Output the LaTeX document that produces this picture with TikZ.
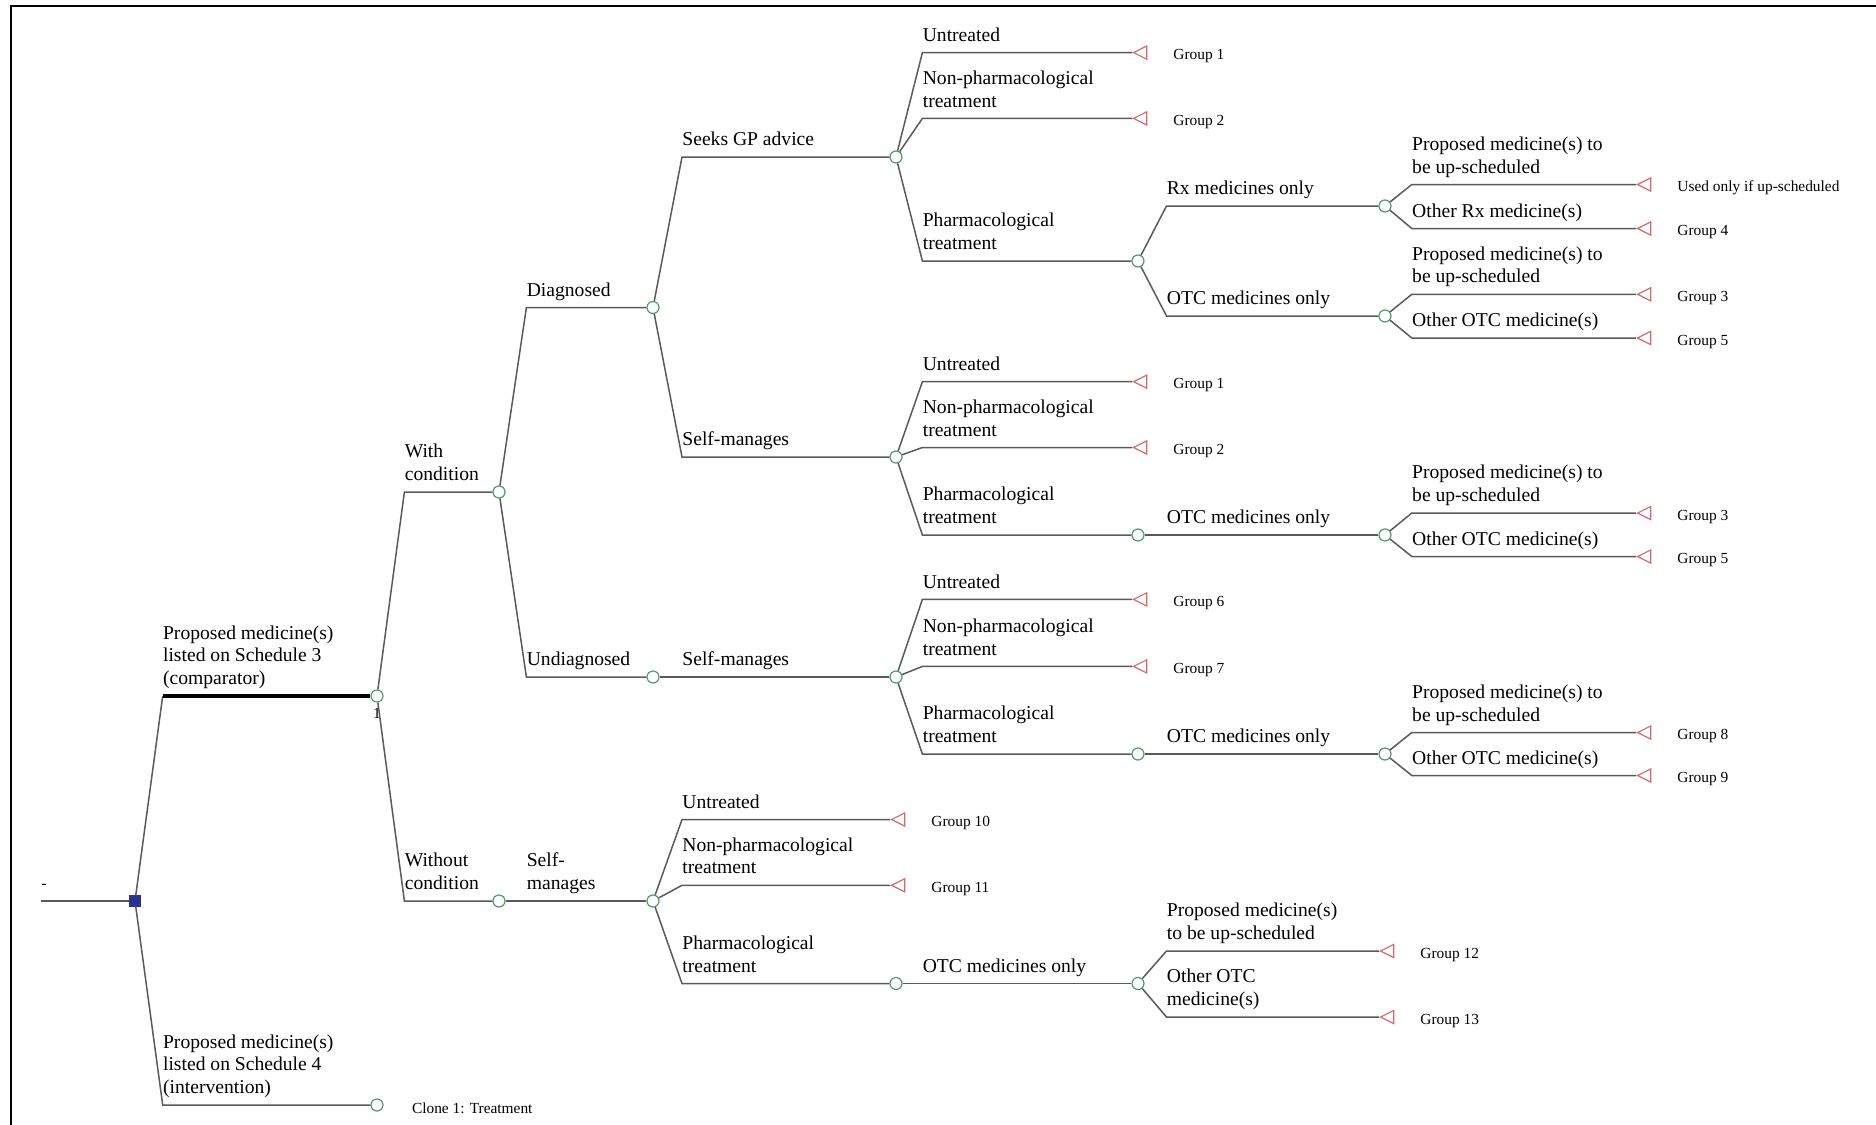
\documentclass[tikz,border=0pt]{standalone}
\usepackage{fontspec}
\setmainfont{Liberation Serif}
\usetikzlibrary{shapes.geometric}
\definecolor{brc}{HTML}{5A5A5A}
\definecolor{chc}{HTML}{4F9D69}
\definecolor{tmc}{HTML}{D46A6A}
\definecolor{dcc}{HTML}{2E3192}

\begin{document}
\begin{tikzpicture}[x=0.5pt, y=-0.5pt,
  br/.style={draw=brc, line width=0.75pt},
  thk/.style={draw=black, line width=1.7pt},
  dec/.style={rectangle, fill=dcc, draw=dcc, minimum size=5.3pt, inner sep=0pt},
  chance/.style={circle, draw=chc, fill=white, line width=0.6pt, minimum size=6pt, inner sep=0pt},
  term/.style={isosceles triangle, isosceles triangle stretches, shape border rotate=180,
               draw=tmc, line width=0.6pt, inner sep=0pt, minimum height=6.6pt, minimum width=6.6pt, anchor=apex},
  lab/.style={anchor=south west, align=left, inner xsep=0pt, inner ysep=5.5pt, text depth=0pt,
              font=\fontsize{9.8}{11.4}\selectfont},
  grp/.style={anchor=base west, inner sep=0pt, font=\fontsize{7.7}{9}\selectfont}]
\useasboundingbox (0,0) rectangle (1876,1125);
\draw[line width=1pt] (11,1125) -- (11,6) -- (1876,6);
% columns where the branches bend
\coordinate (k1) at (162.7,0);
\coordinate (k2) at (404.4,0);
\coordinate (k3) at (526.4,0);
\coordinate (k4) at (682,0);
\coordinate (k5) at (922.4,0);
\coordinate (k6) at (1166.5,0);
\coordinate (k7) at (1411.8,0);
% root and decision
\coordinate (rt) at (41,901);
\node[dec] (dc) at (135,901) {};
\node[inner sep=0pt, font=\fontsize{7.7}{9}\selectfont] (rtl) at (44,886) {-};
\draw[br] (rt) -- (dc);
% strategies
\node[chance] (cmp) at (377,696) {};
\node[chance] (itv) at (377,1105) {};
\draw[br] (dc) -- (k1 |- cmp);
\draw[thk] (k1 |- cmp) -- (cmp);
\draw[br] (dc) -- (k1 |- itv) -- (itv);
\node[lab] (lcmp) at (k1 |- cmp) {Proposed medicine(s)\\listed on Schedule 3\\(comparator)};
\node[lab] (litv) at (k1 |- itv) {Proposed medicine(s)\\listed on Schedule 4\\(intervention)};
\node[inner sep=0pt, font=\fontsize{7.7}{9}\selectfont] (one) at ([yshift=-8.5pt]cmp.center) {1};
\node[grp] (clone) at ([xshift=17.3pt, yshift=-4pt]itv.center) {Clone 1: Treatment};
% condition
\node[chance] (wc) at (499,492) {};
\node[chance] (woc) at (499,901) {};
\draw[br] (cmp) -- (k2 |- wc) -- (wc);
\draw[br] (cmp) -- (k2 |- woc) -- (woc);
\node[lab] (lwc) at (k2 |- wc) {With\\condition};
\node[lab] (lwoc) at (k2 |- woc) {Without\\condition};
% diagnosis
\node[chance] (dg) at (653,307.5) {};
\node[chance] (ud) at (653,677) {};
\node[chance] (wsm) at (653,901) {};
\draw[br] (wc) -- (k3 |- dg) -- (dg);
\draw[br] (wc) -- (k3 |- ud) -- (ud);
\draw[br] (woc) -- (k3 |- wsm) -- (wsm);
\node[lab] (ldg) at (k3 |- dg) {Diagnosed};
\node[lab] (lud) at (k3 |- ud) {Undiagnosed};
\node[lab] (lwsm) at (k3 |- wsm) {Self-\\manages};
% care path
\node[chance] (gp) at (896,157) {};
\node[chance] (dsm) at (896,457) {};
\node[chance] (usm) at (896,677) {};
\node[term] (w1) at (890,819.5) {};
\node[term] (w2) at (890,885.3) {};
\node[chance] (wph) at (896,983.5) {};
\draw[br] (dg) -- (k4 |- gp) -- (gp);
\draw[br] (dg) -- (k4 |- dsm) -- (dsm);
\draw[br] (ud) -- (k4 |- usm) -- (usm);
\draw[br] (wsm) -- (k4 |- w1) -- (w1);
\draw[br] (wsm) -- (k4 |- w2) -- (w2);
\draw[br] (wsm) -- (k4 |- wph) -- (wph);
\node[lab] (lgp) at (k4 |- gp) {Seeks GP advice};
\node[lab] (ldsm) at (k4 |- dsm) {Self-manages};
\node[lab] (lusm) at (k4 |- usm) {Self-manages};
\node[lab] (lw1) at (k4 |- w1) {Untreated};
\node[lab] (lw2) at (k4 |- w2) {Non-pharmacological\\treatment};
\node[lab] (lwph) at (k4 |- wph) {Pharmacological\\treatment};
\node[grp] (gw1) at ([xshift=20.5pt, yshift=-3.5pt]w1.apex) {Group 10};
\node[grp] (gw2) at ([xshift=20.5pt, yshift=-3.5pt]w2.apex) {Group 11};
% treatment
\node[term] (g1) at (1132,52.6) {};
\node[term] (g2) at (1132,118.4) {};
\node[chance] (gph) at (1138,261) {};
\node[term] (d1) at (1132,381.7) {};
\node[term] (d2) at (1132,447.5) {};
\node[chance] (dph) at (1138,535) {};
\node[term] (u1) at (1132,599.4) {};
\node[term] (u2) at (1132,666.4) {};
\node[chance] (uph) at (1138,754) {};
\node[chance] (wotc) at (1138,983.5) {};
\draw[br] (gp) -- (k5 |- g1) -- (g1);
\draw[br] (gp) -- (k5 |- g2) -- (g2);
\draw[br] (gp) -- (k5 |- gph) -- (gph);
\draw[br] (dsm) -- (k5 |- d1) -- (d1);
\draw[br] (dsm) -- (k5 |- d2) -- (d2);
\draw[br] (dsm) -- (k5 |- dph) -- (dph);
\draw[br] (usm) -- (k5 |- u1) -- (u1);
\draw[br] (usm) -- (k5 |- u2) -- (u2);
\draw[br] (usm) -- (k5 |- uph) -- (uph);
\draw[br] (wph) -- (k5 |- wotc) -- (wotc);
\node[lab] (lg1) at (k5 |- g1) {Untreated};
\node[lab] (lg2) at (k5 |- g2) {Non-pharmacological\\treatment};
\node[lab] (lgph) at (k5 |- gph) {Pharmacological\\treatment};
\node[lab] (ld1) at (k5 |- d1) {Untreated};
\node[lab] (ld2) at (k5 |- d2) {Non-pharmacological\\treatment};
\node[lab] (ldph) at (k5 |- dph) {Pharmacological\\treatment};
\node[lab] (lu1) at (k5 |- u1) {Untreated};
\node[lab] (lu2) at (k5 |- u2) {Non-pharmacological\\treatment};
\node[lab] (luph) at (k5 |- uph) {Pharmacological\\treatment};
\node[lab] (lwotc) at (k5 |- wotc) {OTC medicines only};
\node[grp] (gg1) at ([xshift=20.5pt, yshift=-3.5pt]g1.apex) {Group 1};
\node[grp] (gg2) at ([xshift=20.5pt, yshift=-3.5pt]g2.apex) {Group 2};
\node[grp] (gd1) at ([xshift=20.5pt, yshift=-3.5pt]d1.apex) {Group 1};
\node[grp] (gd2) at ([xshift=20.5pt, yshift=-3.5pt]d2.apex) {Group 2};
\node[grp] (gu1) at ([xshift=20.5pt, yshift=-3.5pt]u1.apex) {Group 6};
\node[grp] (gu2) at ([xshift=20.5pt, yshift=-3.5pt]u2.apex) {Group 7};
% medicine type
\node[chance] (grx) at (1385,206) {};
\node[chance] (gotc) at (1385,316) {};
\node[chance] (dotc) at (1385,535) {};
\node[chance] (uotc) at (1385,754) {};
\node[term] (w3) at (1379,951) {};
\node[term] (w4) at (1379,1017) {};
\draw[br] (gph) -- (k6 |- grx) -- (grx);
\draw[br] (gph) -- (k6 |- gotc) -- (gotc);
\draw[br] (dph) -- (k6 |- dotc) -- (dotc);
\draw[br] (uph) -- (k6 |- uotc) -- (uotc);
\draw[br] (wotc) -- (k6 |- w3) -- (w3);
\draw[br] (wotc) -- (k6 |- w4) -- (w4);
\node[lab] (lgrx) at (k6 |- grx) {Rx medicines only};
\node[lab] (lgotc) at (k6 |- gotc) {OTC medicines only};
\node[lab] (ldotc) at (k6 |- dotc) {OTC medicines only};
\node[lab] (luotc) at (k6 |- uotc) {OTC medicines only};
\node[lab] (lw3) at (k6 |- w3) {Proposed medicine(s)\\to be up-scheduled};
\node[lab] (lw4) at (k6 |- w4) {Other OTC\\medicine(s)};
\node[grp] (gw3) at ([xshift=20.5pt, yshift=-3.5pt]w3.apex) {Group 12};
\node[grp] (gw4) at ([xshift=20.5pt, yshift=-3.5pt]w4.apex) {Group 13};
% scheduling
\node[term] (r1) at (1636,184.5) {};
\node[term] (r2) at (1636,228.5) {};
\node[term] (o1) at (1636,294.3) {};
\node[term] (o2) at (1636,338) {};
\node[term] (p1) at (1636,513) {};
\node[term] (p2) at (1636,556.5) {};
\node[term] (q1) at (1636,732.5) {};
\node[term] (q2) at (1636,775.5) {};
\draw[br] (grx) -- (k7 |- r1) -- (r1);
\draw[br] (grx) -- (k7 |- r2) -- (r2);
\draw[br] (gotc) -- (k7 |- o1) -- (o1);
\draw[br] (gotc) -- (k7 |- o2) -- (o2);
\draw[br] (dotc) -- (k7 |- p1) -- (p1);
\draw[br] (dotc) -- (k7 |- p2) -- (p2);
\draw[br] (uotc) -- (k7 |- q1) -- (q1);
\draw[br] (uotc) -- (k7 |- q2) -- (q2);
\node[lab] (lr1) at (k7 |- r1) {Proposed medicine(s) to\\be up-scheduled};
\node[lab] (lr2) at (k7 |- r2) {Other Rx medicine(s)};
\node[lab] (lo1) at (k7 |- o1) {Proposed medicine(s) to\\be up-scheduled};
\node[lab] (lo2) at (k7 |- o2) {Other OTC medicine(s)};
\node[lab] (lp1) at (k7 |- p1) {Proposed medicine(s) to\\be up-scheduled};
\node[lab] (lp2) at (k7 |- p2) {Other OTC medicine(s)};
\node[lab] (lq1) at (k7 |- q1) {Proposed medicine(s) to\\be up-scheduled};
\node[lab] (lq2) at (k7 |- q2) {Other OTC medicine(s)};
\node[grp] (gr1) at ([xshift=20.5pt, yshift=-3.5pt]r1.apex) {Used only if up-scheduled};
\node[grp] (gr2) at ([xshift=20.5pt, yshift=-3.5pt]r2.apex) {Group 4};
\node[grp] (go1) at ([xshift=20.5pt, yshift=-3.5pt]o1.apex) {Group 3};
\node[grp] (go2) at ([xshift=20.5pt, yshift=-3.5pt]o2.apex) {Group 5};
\node[grp] (gp1) at ([xshift=20.5pt, yshift=-3.5pt]p1.apex) {Group 3};
\node[grp] (gp2) at ([xshift=20.5pt, yshift=-3.5pt]p2.apex) {Group 5};
\node[grp] (gq1) at ([xshift=20.5pt, yshift=-3.5pt]q1.apex) {Group 8};
\node[grp] (gq2) at ([xshift=20.5pt, yshift=-3.5pt]q2.apex) {Group 9};
\end{tikzpicture}
\end{document}
